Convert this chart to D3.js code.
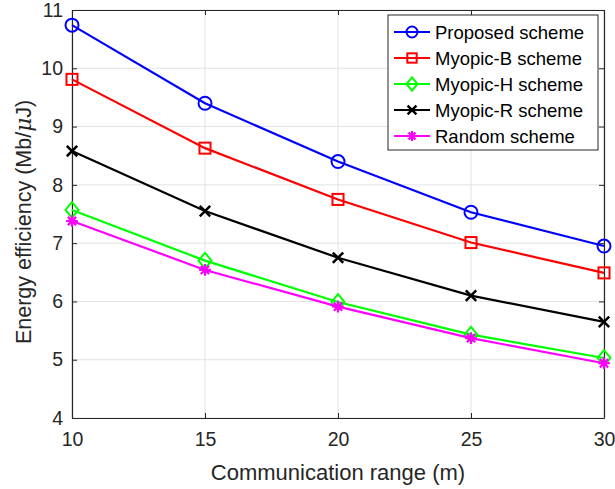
<!DOCTYPE html>
<html>
<head>
<meta charset="utf-8">
<script src="https://cdn.jsdelivr.net/npm/d3@7"></script>
<style>
  html, body { margin: 0; padding: 0; background: #fff; }
  svg { display: block; font-family: "Liberation Sans", Arial, Helvetica, sans-serif; }
</style>
</head>
<body>
<svg id="chart" width="615" height="489"></svg>
<script>
// Communication range (m)
const ranges = [10, 15, 20, 25, 30];

// Energy efficiency (Mb/uJ) per scheme
const proposed = [10.74, 9.40, 8.40, 7.53, 6.95];
const myopicB  = [9.81, 8.63, 7.75, 7.01, 6.49];
const myopicH  = [7.57, 6.70, 5.99, 5.43, 5.03];
const myopicR  = [8.58, 7.55, 6.75, 6.10, 5.65];
const random   = [7.38, 6.54, 5.91, 5.37, 4.94];

const xTicks = [10, 15, 20, 25, 30];
const yTicks = [4, 5, 6, 7, 8, 9, 10, 11];

const series = [
  { name: "Proposed scheme", values: proposed, color: "#0000ff", marker: "circle" },
  { name: "Myopic-B scheme", values: myopicB,  color: "#ff0000", marker: "square" },
  { name: "Myopic-H scheme", values: myopicH,  color: "#00ff00", marker: "diamond" },
  { name: "Myopic-R scheme", values: myopicR,  color: "#000000", marker: "cross" },
  { name: "Random scheme",   values: random,   color: "#ff00ff", marker: "star" }
];

const svg = d3.select("#chart");
const m = { left: 72, right: 11, top: 10, bottom: 71 };
const W = 615, H = 489;
const iw = W - m.left - m.right, ih = H - m.top - m.bottom;

const x = d3.scaleLinear().domain([10, 30]).range([m.left, m.left + iw]);
const y = d3.scaleLinear().domain([4, 11]).range([m.top + ih, m.top]);

const axisColor = "#262626";

// grid
const g = svg.append("g");
g.selectAll(".vg").data(xTicks).join("line")
  .attr("x1", d => x(d)).attr("x2", d => x(d))
  .attr("y1", m.top).attr("y2", m.top + ih)
  .attr("stroke", "#e3e3e3").attr("stroke-width", 1);
g.selectAll(".hg").data(yTicks).join("line")
  .attr("x1", m.left).attr("x2", m.left + iw)
  .attr("y1", d => y(d)).attr("y2", d => y(d))
  .attr("stroke", "#e3e3e3").attr("stroke-width", 1);

// axes (ticks pointing inward, box on)
const tickLen = 5;
const fmt = d3.format("d");
const axB = d3.axisBottom(x).tickValues(xTicks).tickFormat(fmt).tickSizeInner(-tickLen).tickSizeOuter(0).tickPadding(14);
const axL = d3.axisLeft(y).tickValues(yTicks).tickFormat(fmt).tickSizeInner(-tickLen).tickSizeOuter(0).tickPadding(9);
const axT = d3.axisTop(x).tickValues(xTicks).tickSizeInner(-tickLen).tickSizeOuter(0).tickFormat("");
const axR = d3.axisRight(y).tickValues(yTicks).tickSizeInner(-tickLen).tickSizeOuter(0).tickFormat("");

function styleAxis(sel) {
  sel.selectAll("path").attr("stroke", axisColor).attr("stroke-width", 1.2);
  sel.selectAll("line").attr("stroke", axisColor).attr("stroke-width", 1);
  sel.selectAll("text").attr("fill", axisColor).style("font-size", "19.5px")
    .style("font-family", "'Liberation Sans', Arial, sans-serif");
}

svg.append("g").attr("transform", `translate(0,${m.top + ih})`).call(axB).call(styleAxis);
svg.append("g").attr("transform", `translate(${m.left},0)`).call(axL).call(styleAxis);
svg.append("g").attr("transform", `translate(0,${m.top})`).call(axT).call(styleAxis);
svg.append("g").attr("transform", `translate(${m.left + iw},0)`).call(axR).call(styleAxis);

// axis labels
svg.append("text")
  .attr("x", m.left + iw / 2).attr("y", 480)
  .attr("text-anchor", "middle").attr("fill", axisColor)
  .style("font-size", "22px")
  .text("Communication range (m)");

const yl = svg.append("text")
  .attr("transform", `translate(31,${m.top + ih / 2 + 8}) rotate(-90)`)
  .attr("text-anchor", "middle").attr("fill", axisColor)
  .style("font-size", "21.5px");
yl.append("tspan").text("Energy efficiency (Mb/");
yl.append("tspan").style("font-style", "italic").style("font-family", "'DejaVu Serif', serif").text("μ");
yl.append("tspan").text("J)");

// marker drawing
function drawMarker(sel, type, color, size) {
  const s = size / 2;
  if (type === "circle") {
    sel.append("circle").attr("r", s).attr("fill", "none").attr("stroke", color).attr("stroke-width", 2);
  } else if (type === "square") {
    const q = s * 0.85;
    sel.append("rect").attr("x", -q).attr("y", -q).attr("width", 2 * q).attr("height", 2 * q)
      .attr("fill", "none").attr("stroke", color).attr("stroke-width", 2);
  } else if (type === "diamond") {
    sel.append("path").attr("d", `M0,${-s * 1.2}L${s},0L0,${s * 1.2}L${-s},0Z`)
      .attr("fill", "none").attr("stroke", color).attr("stroke-width", 2);
  } else if (type === "cross") {
    const q = s * 0.8;
    sel.append("path").attr("d", `M${-q},${-q}L${q},${q}M${-q},${q}L${q},${-q}`)
      .attr("stroke", color).attr("stroke-width", 2.5);
  } else if (type === "star") {
    const q = s * 0.9;
    const d = [0, 45, 90, 135].map(a => {
      const r = a * Math.PI / 180;
      return `M${-q * Math.cos(r)},${-q * Math.sin(r)}L${q * Math.cos(r)},${q * Math.sin(r)}`;
    }).join("");
    sel.append("path").attr("d", d).attr("stroke", color).attr("stroke-width", 2.2);
  }
}

// lines + markers
const line = d3.line().x((d, i) => x(ranges[i])).y(d => y(d));
series.forEach(s => {
  svg.append("path").datum(s.values)
    .attr("d", line).attr("fill", "none")
    .attr("stroke", s.color).attr("stroke-width", 2.2);
  s.values.forEach((v, i) => {
    const mg = svg.append("g").attr("transform", `translate(${x(ranges[i])},${y(v)})`);
    drawMarker(mg, s.marker, s.color, 13);
  });
});

// legend
const lg = svg.append("g").attr("transform", "translate(388,15)");
lg.append("rect").attr("width", 210).attr("height", 135)
  .attr("fill", "#fff").attr("stroke", axisColor).attr("stroke-width", 1);
series.forEach((s, i) => {
  const row = lg.append("g").attr("transform", `translate(0,${17 + i * 26})`);
  row.append("line").attr("x1", 6).attr("x2", 42).attr("y1", 0).attr("y2", 0)
    .attr("stroke", s.color).attr("stroke-width", 2.2);
  const mk = row.append("g").attr("transform", "translate(24,0)");
  drawMarker(mk, s.marker, s.color, 11);
  row.append("text").attr("x", 47).attr("y", 6.5)
    .attr("fill", "#000").style("font-size", "18.5px").text(s.name);
});
</script>
</body>
</html>
